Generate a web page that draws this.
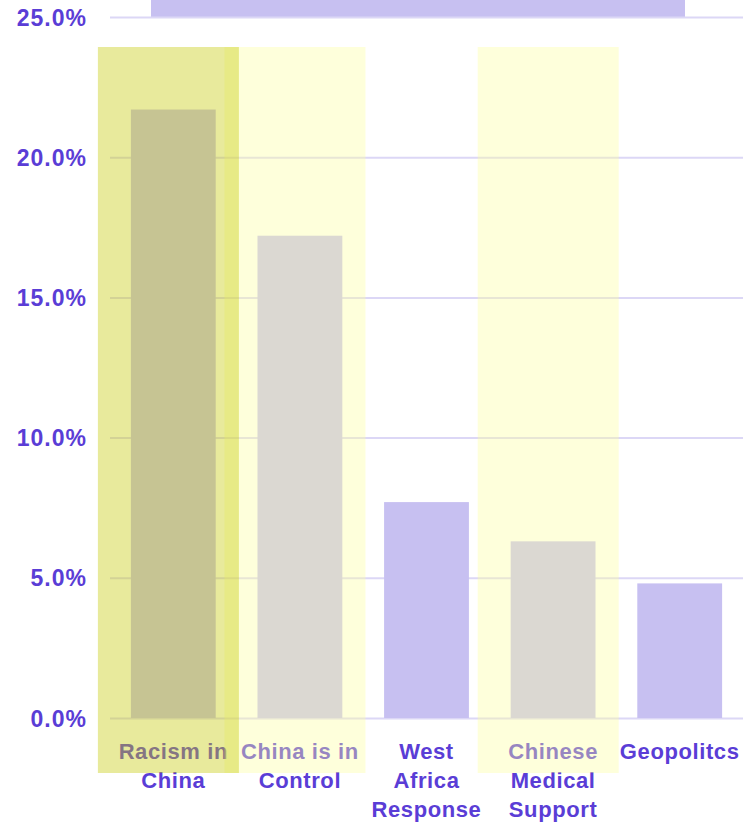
<!DOCTYPE html>
<html>
<head>
<meta charset="utf-8">
<script src="https://cdn.jsdelivr.net/npm/d3@7"></script>
<style>
  body { margin: 0; background: #fff; }
  text { font-family: "Liberation Sans", Arial, sans-serif; font-weight: bold; }
</style>
</head>
<body>
<div id="chart"></div>
<script>
// chart values
const categories = ["Racism in China", "China is in Control", "West Africa Response", "Chinese Medical Support", "Geopolitcs"];
const labelLines = [["Racism in", "China"], ["China is in", "Control"], ["West", "Africa", "Response"], ["Chinese", "Medical", "Support"], ["Geopolitcs"]];
const shares = [21.7, 17.2, 7.7, 6.3, 4.8];
const yTicks = [0, 5, 10, 15, 20, 25];
const highlighted = ["China is in Control", "Chinese Medical Support", "Racism in China"];
const highlightKind = ["light", "light", "strong"];

const width = 743;
const height = 823;
const margin = { top: 17, right: 0, bottom: 105, left: 110 };

const usableArea = {
  top: margin.top,
  bottom: height - margin.bottom,
  left: margin.left,
  right: width - margin.right,
};

const purple = "#5a3dd6";
const lavender = "#c7c0f1";

const svg = d3
  .select("#chart")
  .append("svg")
  .attr("width", width)
  .attr("height", height);

const xScale = d3
  .scaleBand()
  .domain(categories)
  .range([usableArea.left, usableArea.right])
  .paddingInner(0.33)
  .paddingOuter(0.165);

const yScale = d3
  .scaleLinear()
  .domain([0, 25])
  .range([usableArea.bottom, usableArea.top]);

// banner block at the top
svg
  .append("rect")
  .attr("x", 151)
  .attr("y", 0)
  .attr("width", 534)
  .attr("height", yScale(25) + 0.5)
  .attr("fill", lavender);

// gridlines
const yAxis = d3
  .axisLeft(yScale)
  .tickValues(yTicks)
  .tickSize(-(usableArea.right - usableArea.left))
  .tickFormat((d) => d3.format(".1f")(d) + "%");

const gAxis = svg
  .append("g")
  .attr("transform", `translate(${usableArea.left}, 0)`)
  .call(yAxis);

gAxis.select(".domain").remove();
gAxis.selectAll(".tick line").attr("stroke", "#dcd7f6").attr("stroke-width", 2);
gAxis
  .selectAll(".tick text")
  .attr("x", -23)
  .attr("dy", "0.35em")
  .attr("fill", purple)
  .style("font-size", "23px")
  .style("letter-spacing", "1px");

// bars
svg
  .append("g")
  .selectAll("rect")
  .data(categories)
  .join("rect")
  .attr("x", (d) => xScale(d))
  .attr("y", (d, i) => yScale(shares[i]))
  .attr("width", xScale.bandwidth())
  .attr("height", (d, i) => yScale(0) - yScale(shares[i]))
  .attr("fill", lavender);

// category labels
const labels = svg.append("g");
categories.forEach((c, i) => {
  const t = labels
    .append("text")
    .attr("x", xScale(c) + xScale.bandwidth() / 2)
    .attr("y", usableArea.bottom + 41)
    .attr("text-anchor", "middle")
    .attr("fill", purple)
    .style("font-size", "22px")
    .style("letter-spacing", "0.6px");
  labelLines[i].forEach((line, j) => {
    t.append("tspan")
      .attr("x", xScale(c) + xScale.bandwidth() / 2)
      .attr("dy", j === 0 ? 0 : 29)
      .text(line);
  });
});

// highlight overlays on top
svg
  .append("g")
  .selectAll("rect")
  .data(highlighted)
  .join("rect")
  .attr("x", (d) => xScale(d) - 33)
  .attr("y", 47)
  .attr("width", 141)
  .attr("height", 726)
  .attr("fill", (d, i) => (highlightKind[i] === "strong" ? "#c5ca07" : "#fcffa0"))
  .attr("fill-opacity", (d, i) => (highlightKind[i] === "strong" ? 0.4 : 0.38));
</script>
</body>
</html>
